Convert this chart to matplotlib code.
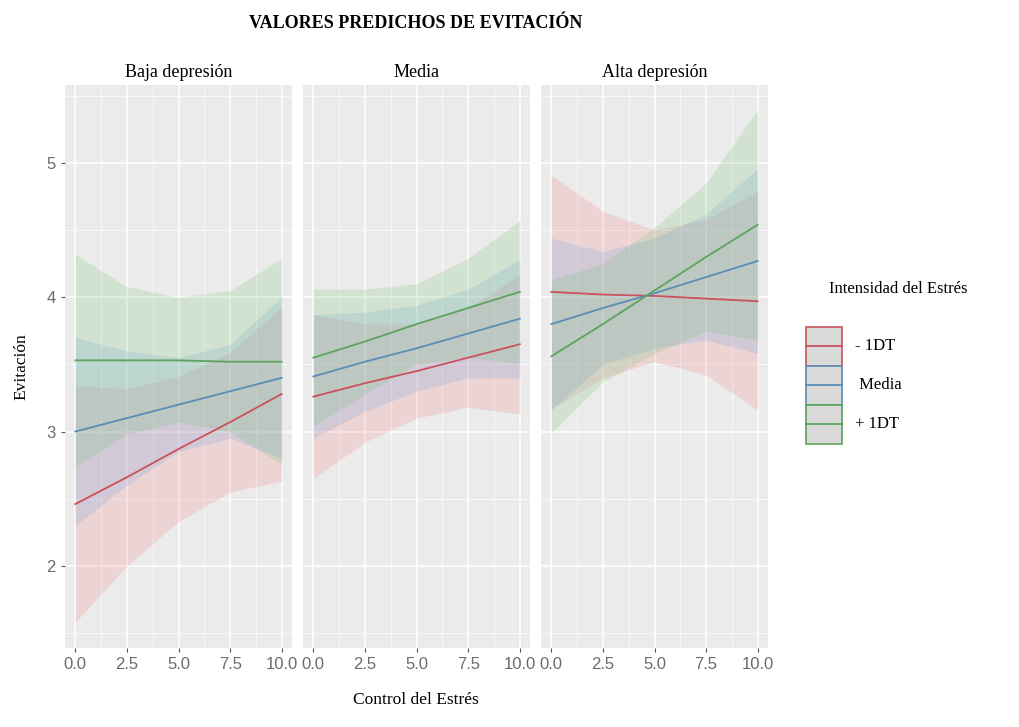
import matplotlib
matplotlib.use("Agg")
import matplotlib.pyplot as plt
from matplotlib.patches import Rectangle
from matplotlib.lines import Line2D

# values
panels = ["Baja depresión", "Media", "Alta depresión"]
groups = ["- 1DT", " Media", "+ 1DT"]
x_pts = [0, 2.5, 5, 7.5, 10]

# predicted line, lower and upper band, one list per panel and group
fit = {
    "Baja depresión": [[2.46, 2.66, 2.87, 3.07, 3.28],
                       [3.00, 3.10, 3.20, 3.30, 3.40],
                       [3.53, 3.53, 3.53, 3.52, 3.52]],
    "Media": [[3.26, 3.36, 3.45, 3.55, 3.65],
              [3.41, 3.52, 3.62, 3.73, 3.84],
              [3.55, 3.67, 3.80, 3.92, 4.04]],
    "Alta depresión": [[4.04, 4.02, 4.01, 3.99, 3.97],
                       [3.80, 3.92, 4.03, 4.15, 4.27],
                       [3.56, 3.80, 4.05, 4.30, 4.54]],
}
lower = {
    "Baja depresión": [[1.58, 2.00, 2.33, 2.55, 2.63],
                       [2.30, 2.60, 2.85, 2.95, 2.80],
                       [2.74, 2.98, 3.07, 3.00, 2.75]],
    "Media": [[2.65, 2.92, 3.10, 3.18, 3.13],
              [2.95, 3.15, 3.30, 3.40, 3.40],
              [3.04, 3.28, 3.50, 3.55, 3.51]],
    "Alta depresión": [[3.17, 3.40, 3.52, 3.42, 3.16],
                       [3.16, 3.50, 3.62, 3.68, 3.58],
                       [2.99, 3.37, 3.58, 3.75, 3.68]],
}
upper = {
    "Baja depresión": [[3.34, 3.32, 3.41, 3.59, 3.93],
                       [3.70, 3.60, 3.55, 3.65, 4.00],
                       [4.32, 4.08, 4.00, 4.05, 4.29]],
    "Media": [[3.87, 3.80, 3.80, 3.92, 4.17],
              [3.87, 3.89, 3.94, 4.06, 4.28],
              [4.06, 4.06, 4.10, 4.29, 4.57]],
    "Alta depresión": [[4.91, 4.64, 4.50, 4.58, 4.79],
                       [4.44, 4.34, 4.44, 4.62, 4.96],
                       [4.13, 4.25, 4.52, 4.85, 5.40]],
}

x_ticks = [0, 2.5, 5, 7.5, 10]
x_tick_labels = ["0.0", "2.5", "5.0", "7.5", "10.0"]
y_ticks = [2, 3, 4, 5]

line_colors = ["#C9525C", "#5A8DB5", "#5CA35C"]
fill_colors = ["#F37C80", "#6A9FE0", "#6CC06C"]

serif = "Liberation Serif"
sans = "Liberation Sans"


def main():
    fig = plt.figure(figsize=(10.19, 7.27), dpi=100)
    lefts = [0.0638, 0.2974, 0.5309]
    width = 0.2228
    bottom = 0.109
    height = 0.774

    for i, name in enumerate(panels):
        ax = fig.add_axes([lefts[i], bottom, width, height])
        ax.set_facecolor("#EBEBEB")
        for g in range(len(groups)):
            ax.fill_between(x_pts, lower[name][g], upper[name][g],
                            color=fill_colors[g], alpha=0.2, lw=0)
        for g in range(len(groups)):
            ax.plot(x_pts, fit[name][g], color=line_colors[g], lw=1.3)

        ax.set_xlim(-0.5, 10.5)
        ax.set_ylim(1.39, 5.58)
        ax.set_xticks(x_ticks)
        ax.set_xticklabels(x_tick_labels, fontfamily=sans, fontsize=12,
                           color="#6B6B6B")
        ax.set_xticks([1.25, 3.75, 6.25, 8.75], minor=True)
        ax.set_yticks([1.5, 2.5, 3.5, 4.5, 5.5], minor=True)
        ax.set_yticks(y_ticks)
        if i == 0:
            ax.set_yticklabels([str(v) for v in y_ticks], fontfamily=sans,
                               fontsize=12, color="#6B6B6B")
            ax.tick_params(axis="y", length=3, color="#555555")
        else:
            ax.tick_params(axis="y", length=0, labelleft=False)
        ax.tick_params(axis="x", length=3, color="#555555", pad=4)
        ax.tick_params(which="minor", length=0)
        ax.grid(True, which="major", color="white", lw=1.1)
        ax.grid(True, which="minor", color="white", lw=0.5)
        ax.set_axisbelow(True)
        for s in ax.spines.values():
            s.set_visible(False)
        ax.set_title(name, fontfamily=serif, fontsize=13, pad=6)

    fig.text(0.408, 0.967, "VALORES PREDICHOS DE EVITACIÓN", ha="center",
             va="center", fontfamily=serif, fontsize=13, fontweight="bold")
    fig.text(0.408, 0.037, "Control del Estrés", ha="center", va="center",
             fontfamily=serif, fontsize=12.5)
    fig.text(0.021, 0.496, "Evitación", ha="center", va="center",
             rotation=90, fontfamily=serif, fontsize=12.5)

    # legend drawn on its own axes
    lg = fig.add_axes([0.7655, 0.3673, 0.2345, 0.2751])
    lg.set_xlim(0, 1)
    lg.set_ylim(0, 1)
    lg.axis("off")
    lg.text(0.205, 0.855, "Intensidad del Estrés", fontfamily=serif,
            fontsize=12, va="center")
    key_h = 0.195
    for g, label in enumerate(groups):
        y0 = 0.47 - g * key_h
        lg.add_patch(Rectangle((0.109, y0), 0.15, key_h, facecolor="#D9D9D9",
                               edgecolor=line_colors[g], lw=1.2))
        lg.add_line(Line2D([0.109, 0.259], [y0 + key_h / 2] * 2,
                           color=line_colors[g], lw=1.3))
        lg.text(0.315, y0 + key_h / 2, label, fontfamily=serif, fontsize=12,
                va="center")

    fig.savefig("out.png", dpi=100, facecolor="white")


if __name__ == "__main__":
    main()
